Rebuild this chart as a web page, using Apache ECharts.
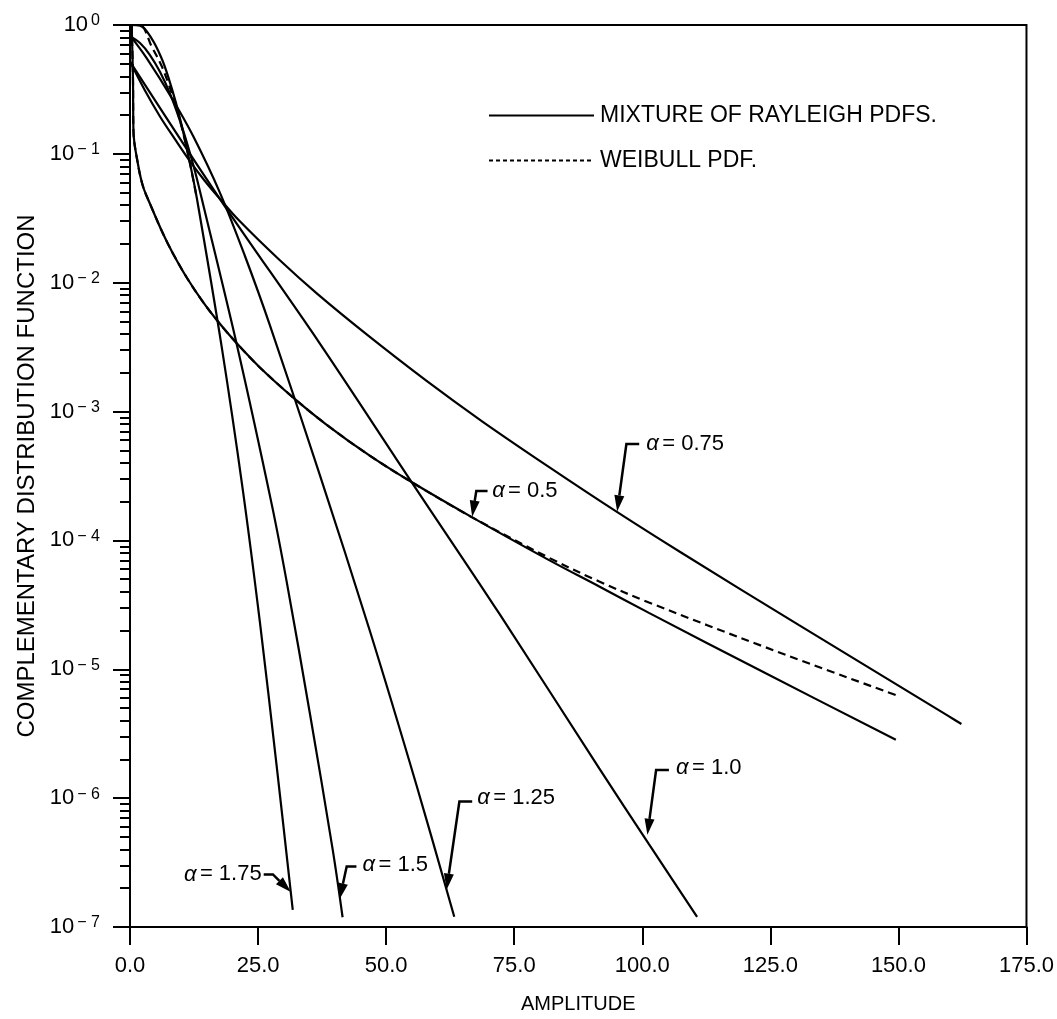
<!DOCTYPE html>
<html>
<head>
<meta charset="utf-8">
<script src="https://cdn.jsdelivr.net/npm/echarts@6/dist/echarts.min.js"></script>
<style>html,body{margin:0;padding:0;background:#fff}#c{width:1057px;height:1019px}</style>
</head>
<body>
<div id="c"></div>
<script>
// ---- data ----
const xTicks = [0, 25, 50, 75, 100, 125, 150, 175];
const yMinorTicks = [];
for (let e = -7; e < 0; e++) { for (let m = 2; m <= 9; m++) yMinorTicks.push(m * Math.pow(10, e)); }

const mix050 = [[0.33,1.0],[0.58,0.38],[0.68,0.148],[1.56,0.083],[2.53,0.056],[3.9,0.041],[6.43,0.0241],[8.38,0.01688],[11.1,0.01093],[14.2,0.00713],[17.5,0.00482],[20.8,0.0034],[25.3,0.00221],[31.8,0.00129],[38.4,7.9e-4],[46.8,4.55e-4],[55.2,2.8e-4],[66.8,1.51e-4],[81.9,7.0e-5],[91.6,4.39e-5],[101.3,2.74e-5],[124.1,9.3e-6],[149.5,2.84e-6]];
const weib050 = [[0.33,1.0],[0.58,0.38],[0.68,0.148],[1.56,0.083],[2.53,0.056],[3.9,0.041],[6.43,0.0241],[8.38,0.01688],[11.1,0.01093],[14.2,0.00713],[17.5,0.00482],[20.8,0.0034],[25.3,0.00221],[31.8,0.00129],[38.4,7.9e-4],[46.8,4.55e-4],[55.2,2.8e-4],[66.8,1.51e-4],[81.9,7.3e-5],[91.6,4.8e-5],[101.3,3.3e-5],[124.1,1.48e-5],[149.5,6.3e-6]];
const mix075 = [[0,0.52],[2.92,0.31],[5.85,0.195],[8.77,0.130],[11.69,0.0879],[14.62,0.0616],[17.5,0.045],[21.4,0.0301],[29.2,0.0150],[36.4,0.0083],[46.2,0.00397],[57.9,0.00173],[68.8,8.37e-4],[81.9,3.69e-4],[94.9,1.68e-4],[107.8,7.95e-5],[130.6,2.2e-5],[159.8,4.33e-6],[162.3,3.76e-6]];
const mix100 = [[0,0.52],[17.5,0.045],[37.0,0.0034],[55.2,2.75e-4],[72.1,2.7e-5],[91.6,1.7e-6],[101.3,4.4e-7],[110.7,1.2e-7]];
const mix125 = [[0,0.83],[3.25,0.553],[8.38,0.262],[12.3,0.138],[17.5,0.0505],[22.4,0.01626],[27.3,0.00469],[37.0,3.27e-4],[46.8,2.0e-5],[55.9,1.27e-6],[63.3,1.2e-7]];
const mix150 = [[0,0.82],[1.95,0.724],[3.9,0.585],[5.85,0.433],[7.8,0.293],[9.74,0.181],[11.3,0.115],[12.67,0.0736],[14.0,0.045],[20.9,0.00324],[27.7,1.88e-4],[30.6,4.75e-5],[35.1,4.58e-6],[39.6,3.91e-7],[41.5,1.19e-7]];
const mix175 = [[0,1.0],[1.95,0.99],[4.23,0.784],[6.18,0.55],[7.46,0.396],[8.97,0.2486],[10.33,0.151],[11.69,0.0854],[13.06,0.045],[17.93,3.12e-3],[22.02,2.47e-4],[25.34,2.35e-5],[28.65,1.75e-6],[31.77,1.36e-7]];
const weib175 = [[0,1.0],[1.95,1.0],[4.23,0.68],[6.18,0.48],[7.46,0.355],[8.97,0.235],[10.33,0.148],[11.69,0.085],[13.06,0.045]];

const legendNames = ['MIXTURE OF RAYLEIGH PDFS.', 'WEIBULL PDF.'];

const annotations = [
  {text:'0.75', anchor:[100.8,5.6e-4], align:'left',  path:[[99.4,5.6e-4],[96.9,5.6e-4],[95.1,1.68e-4]]},
  {text:'0.5',  anchor:[70.7,2.42e-4], align:'left',  path:[[69.8,2.42e-4],[67.6,2.42e-4],[66.8,1.53e-4]]},
  {text:'1.0',  anchor:[106.6,1.71e-6], align:'left', path:[[105.2,1.65e-6],[102.7,1.65e-6],[101.0,5.2e-7]]},
  {text:'1.25', anchor:[67.8,1.0e-6], align:'left',   path:[[66.8,9.4e-7],[64.3,9.4e-7],[61.8,1.95e-7]]},
  {text:'1.5',  anchor:[45.4,3.05e-7], align:'left',  path:[[44.2,2.95e-7],[42.3,2.95e-7],[40.9,1.64e-7]]},
  {text:'1.75', anchor:[25.7,2.56e-7], align:'right', path:[[26.1,2.56e-7],[27.9,2.56e-7],[31.4,1.87e-7]]}
];

// ---- chart ----
const FONT = '"Liberation Sans", Arial, sans-serif';
const chart = echarts.init(document.getElementById('c'), null, {renderer:'canvas'});
const solid = {type:'line', showSymbol:false, symbol:'none', smooth:0.35, lineStyle:{color:'#000', width:2.2, type:'solid'}, itemStyle:{color:'#000'}, z:3, silent:true};
const dashed = {type:'line', showSymbol:false, symbol:'none', smooth:0.35, lineStyle:{color:'#000', width:2.2, type:[8,5]}, itemStyle:{color:'#000'}, z:3, silent:true};
function S(base, name, data){ return Object.assign({}, base, {name, data}); }

const option = {
  animation:false,
  backgroundColor:'#fff',
  grid:{left:130, right:29, top:25, bottom:86, show:true, borderColor:'#000', borderWidth:2, backgroundColor:'transparent'},
  legend:{
    orient:'vertical', left:483, top:99, itemGap:22, itemWidth:105, itemHeight:18,
    itemStyle:{opacity:0},
    textStyle:{fontFamily:FONT, fontSize:23, color:'#000', padding:[0,0,0,1]},
    data:[
      {name:legendNames[0], lineStyle:{width:2, type:'solid'}},
      {name:legendNames[1], lineStyle:{width:2, type:[4,3]}}
    ]
  },
  xAxis:{
    type:'value', min:0, max:175, interval:25,
    name:'AMPLITUDE', nameLocation:'middle', nameGap:67,
    nameTextStyle:{fontFamily:FONT, fontSize:20, color:'#000'},
    axisLine:{show:true, onZero:false, lineStyle:{color:'#000', width:2}},
    axisTick:{show:true, inside:false, length:18, lineStyle:{color:'#000', width:2}},
    axisLabel:{fontFamily:FONT, fontSize:22, color:'#000', margin:28, formatter:v => v.toFixed(1)},
    splitLine:{show:false}
  },
  yAxis:[{
    type:'log', logBase:10, min:1e-7, max:1,
    name:'COMPLEMENTARY DISTRIBUTION FUNCTION', nameLocation:'middle', nameGap:91, nameRotate:90,
    nameTextStyle:{fontFamily:FONT, fontSize:24, color:'#000'},
    axisLine:{show:true, lineStyle:{color:'#000', width:2}},
    axisTick:{show:true, length:17, lineStyle:{color:'#000', width:2}},
    axisLabel:{
      margin:30,
      formatter:v => { const e = Math.round(Math.log10(v)); return '{b|10}{s|' + (e === 0 ? '0' : '\u2212 ' + (-e)) + '}'; },
      rich:{
        b:{fontFamily:FONT, fontSize:22, color:'#000'},
        s:{fontFamily:FONT, fontSize:16, color:'#000', padding:[0,0,8,3]}
      }
    },
    splitLine:{show:false}
  },{
    type:'log', logBase:10, min:1e-7, max:1, position:'left',
    axisLine:{show:false},
    axisTick:{show:true, length:10, customValues:yMinorTicks, lineStyle:{color:'#000', width:2}},
    axisLabel:{show:false},
    splitLine:{show:false}
  }],
  series:[
    S(solid, legendNames[0], mix050),
    S(dashed, legendNames[1], weib050),
    S(solid, legendNames[0], mix075),
    S(solid, legendNames[0], mix100),
    S(solid, legendNames[0], mix125),
    S(solid, legendNames[0], mix150),
    S(solid, legendNames[0], mix175),
    S(dashed, legendNames[1], weib175)
  ]
};
chart.setOption(option);

function px(p){ return chart.convertToPixel({xAxisIndex:0, yAxisIndex:0}, p); }
const elements = [];
annotations.forEach(a => {
  const pts = a.path.map(px);
  const tip = pts[pts.length-1], prev = pts[pts.length-2];
  const dx = tip[0]-prev[0], dy = tip[1]-prev[1], L = Math.hypot(dx,dy), ux = dx/L, uy = dy/L;
  const ah = 16, aw = 5;
  const base = [tip[0]-ux*ah, tip[1]-uy*ah];
  const linePts = pts.slice(0,-1).concat([base]);
  elements.push({type:'polyline', shape:{points:linePts}, style:{stroke:'#000', lineWidth:2.5, fill:null}, z:10});
  elements.push({type:'polygon', shape:{points:[tip,[base[0]-uy*aw, base[1]+ux*aw],[base[0]+uy*aw, base[1]-ux*aw]]}, style:{fill:'#000'}, z:10});
  const t = px(a.anchor);
  elements.push({type:'text', x:t[0], y:t[1], z:10, style:{
    text:'{a|\u03b1} {n|= ' + a.text + '}',
    rich:{a:{fontFamily:FONT, fontSize:22, fontStyle:'italic', fill:'#000'}, n:{fontFamily:FONT, fontSize:22, fill:'#000'}},
    align:a.align, verticalAlign:'middle'
  }});
});
chart.setOption({graphic:{elements}});
</script>
</body>
</html>
